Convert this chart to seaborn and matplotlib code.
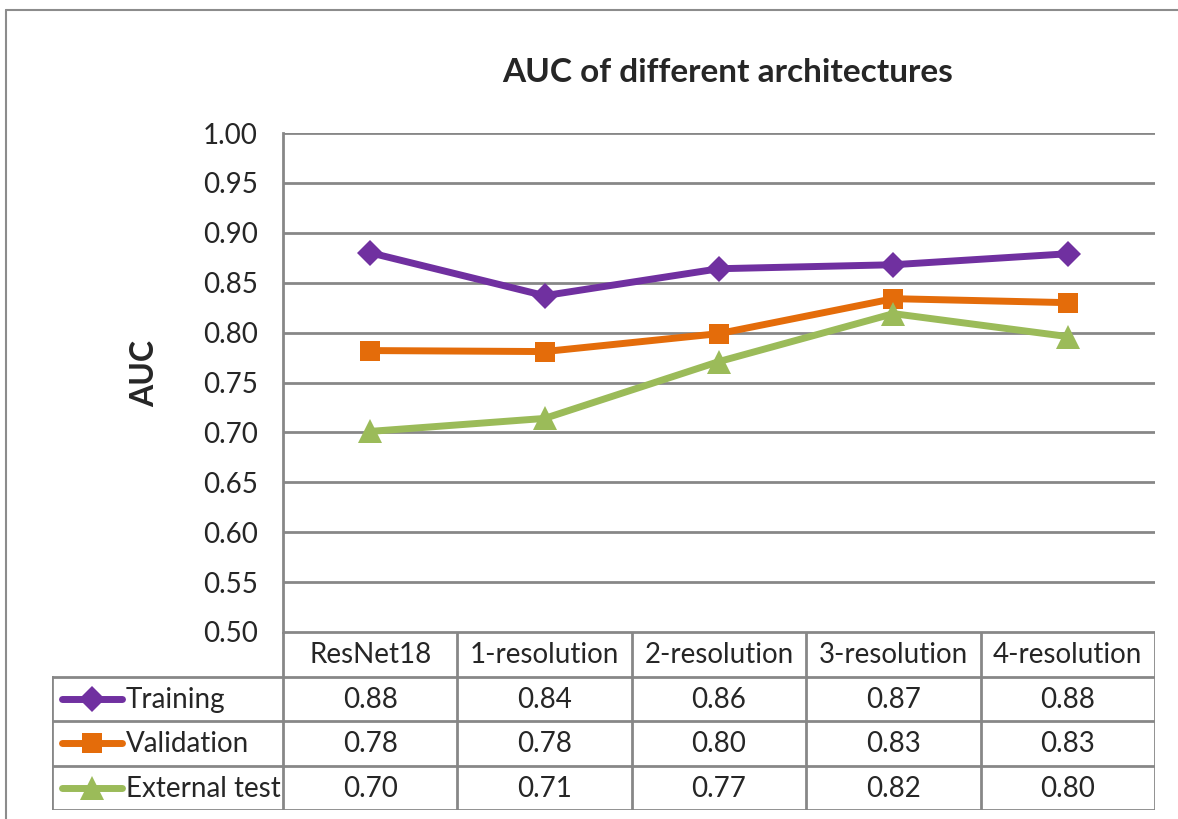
import matplotlib
matplotlib.use("Agg")
import matplotlib.pyplot as plt
import pandas as pd
import seaborn as sns
from matplotlib.lines import Line2D

architectures = ["ResNet18", "1-resolution", "2-resolution", "3-resolution", "4-resolution"]
series_names = ["Training", "Validation", "External test"]
training = [0.880, 0.837, 0.864, 0.868, 0.879]
validation = [0.782, 0.781, 0.799, 0.834, 0.830]
external_test = [0.701, 0.714, 0.771, 0.819, 0.796]
y_ticks = [0.50, 0.55, 0.60, 0.65, 0.70, 0.75, 0.80, 0.85, 0.90, 0.95, 1.00]

colors = {"Training": "#7030A0", "Validation": "#E46C0A", "External test": "#9BBB59"}
markers = {"Training": "D", "Validation": "s", "External test": "^"}
msizes = {"Training": 13, "Validation": 14, "External test": 17}

df = pd.DataFrame({
    "pos": list(range(len(architectures))) * 3,
    "AUC": training + validation + external_test,
    "series": [s for s in series_names for _ in architectures],
})

sns.set_theme(style="white")
plt.rcParams["font.family"] = ["Lato", "DejaVu Sans"]
grid_c = "#878787"
fs = 20

W, H = 1178, 819
fig = plt.figure(figsize=(W / 100, H / 100), dpi=100)
# outer chart frame (only the top and left edges are inside the picture)
fig.add_artist(Line2D([6 / W, 1.0], [1 - 10 / H, 1 - 10 / H], transform=fig.transFigure,
                      color="#8c8c8c", linewidth=1.5))
fig.add_artist(Line2D([6 / W, 6 / W], [0, 1 - 10 / H], transform=fig.transFigure,
                      color="#8c8c8c", linewidth=1.5))

x0, x1, ytop, ybot = 283, 1155, 133, 632
ax = fig.add_axes([x0 / W, 1 - ybot / H, (x1 - x0) / W, (ybot - ytop) / H])
for name in series_names:
    sub = df[df["series"] == name]
    sns.lineplot(data=sub, x="pos", y="AUC", ax=ax, color=colors[name],
                 marker=markers[name], markersize=msizes[name], markeredgewidth=0,
                 linewidth=5, legend=False)
ax.set_xlim(-0.5, len(architectures) - 0.5)
ax.set_ylim(0.5, 1.0)
ax.set_yticks(y_ticks)
ax.set_yticklabels([f"{v:.2f}" for v in y_ticks], fontsize=fs)
ax.set_xticks([])
ax.set_xlabel("")
ax.set_ylabel("")
ax.grid(axis="y", color=grid_c, linewidth=2)
ax.set_axisbelow(True)
for side in ["top", "right", "bottom"]:
    ax.spines[side].set_visible(False)
ax.spines["left"].set_color(grid_c)
ax.spines["left"].set_linewidth(2)
ax.tick_params(axis="y", length=0, pad=18)

fig.text(728 / W, 1 - 72 / H, "AUC of different architectures", ha="center", va="center",
         fontsize=24, fontweight="bold")
fig.text(145 / W, 1 - 374 / H, "AUC", ha="center", va="center", rotation=90,
         fontsize=23, fontweight="bold")

# data table under the chart
col_w = (x1 - x0) / len(architectures)
t_left, t_bot = 52, 810
tax = fig.add_axes([t_left / W, 1 - t_bot / H, (x1 - t_left) / W, (t_bot - ybot) / H])
xmin = -0.5 - (x0 - t_left) / col_w
xmax = len(architectures) - 0.5
tax.set_xlim(xmin, xmax)
tax.set_ylim(4, 0)
tax.axis("off")
lk = dict(color=grid_c, linewidth=2, solid_capstyle="projecting")
tax.plot([-0.5, xmax], [0, 0], **lk)
for r in range(1, 5):
    tax.plot([xmin, xmax], [r, r], **lk)
for c in range(len(architectures) + 1):
    tax.plot([-0.5 + c, -0.5 + c], [0, 4], **lk)
tax.plot([xmin, xmin], [1, 4], **lk)
for i, arch in enumerate(architectures):
    tax.text(i, 0.52, arch, ha="center", va="center", fontsize=fs)
rows = {"Training": training, "Validation": validation, "External test": external_test}
unit = 1 / col_w
for r, name in enumerate(series_names, start=1):
    xs = [xmin + 10 * unit, xmin + 70 * unit]
    tax.add_line(Line2D(xs, [r + 0.5, r + 0.5], color=colors[name], linewidth=5))
    tax.add_line(Line2D([xmin + 40 * unit], [r + 0.5], color=colors[name], marker=markers[name],
                        markersize=msizes[name], markeredgewidth=0, linestyle="none"))
    tax.text(xmin + 74 * unit, r + 0.52, name, ha="left", va="center", fontsize=fs)
    for i, v in enumerate(rows[name]):
        tax.text(i, r + 0.52, f"{v:.2f}", ha="center", va="center", fontsize=fs)

fig.savefig("out.png", dpi=100)
